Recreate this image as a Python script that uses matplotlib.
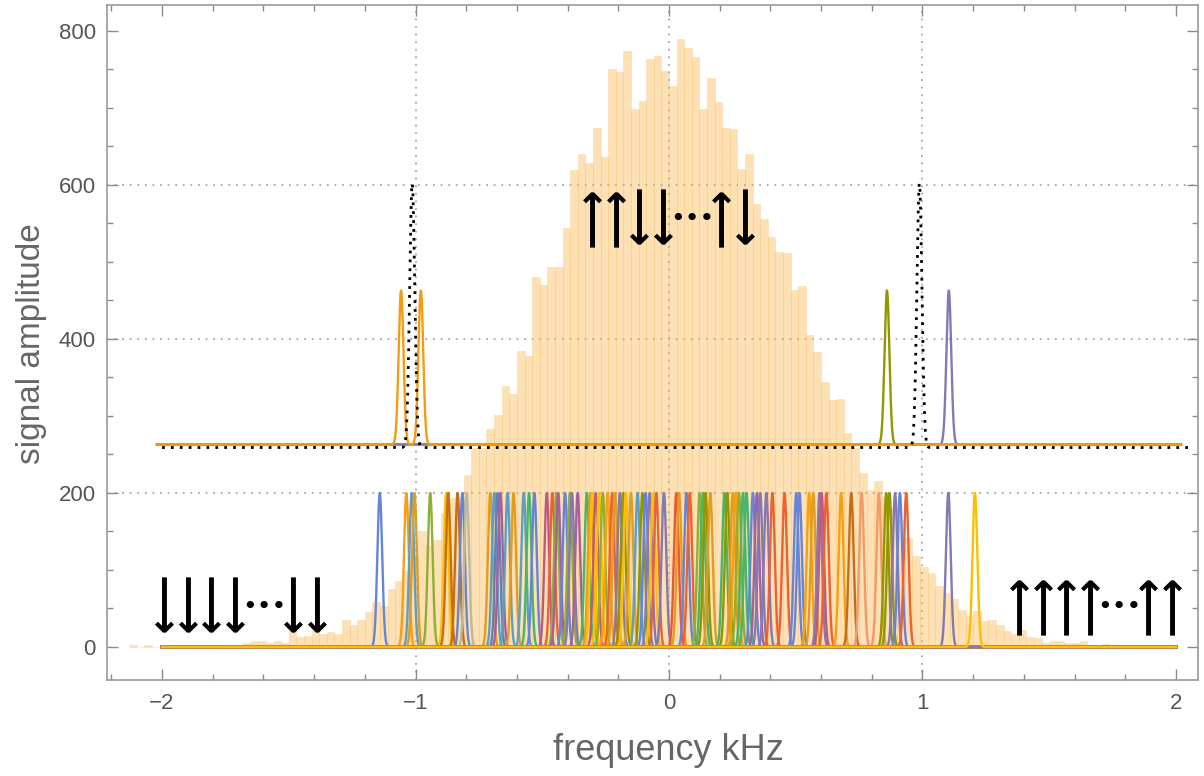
import numpy as np
import matplotlib
matplotlib.use("Agg")
import matplotlib.pyplot as plt
from matplotlib.ticker import MultipleLocator

plt.rcParams['font.family'] = ['Liberation Sans Narrow', 'Liberation Sans', 'DejaVu Sans']

# ---------------- data ----------------
hist_start = -2.13          # kHz, left edge of first bin
hist_width = 0.03           # kHz
hist_counts = [
    2, 0, 2, 0, 1, 0, 1, 1, 0, 2, 1, 2, 1, 2, 3,
    5, 8, 8, 5, 8, 5, 21, 13, 14, 22, 17, 20, 17, 35, 29,
    35, 45, 58, 53, 75, 86, 99, 120, 151, 133, 139, 174, 194, 194, 223,
    258, 258, 283, 301, 339, 328, 384, 378, 481, 470, 493, 493, 544, 620, 640,
    628, 674, 636, 751, 747, 774, 699, 709, 764, 768, 748,
    729, 790, 778, 766, 699, 739, 708, 674, 673, 621, 640, 575, 556, 533, 513,
    512, 464, 469, 405, 383, 344, 321, 322, 278, 258, 226, 204, 216, 195, 180,
    165, 141, 118, 104, 96, 79, 70, 62, 48, 40, 47, 34, 35, 29, 21,
    17, 22, 13, 12, 5, 8, 8, 5, 5, 8, 1, 1, 4,
]

# individual spin lines (bottom trace, baseline 0)
peak_height = 200
peak_positions = [
    -1.141, -1.036, -1.015, -1.004, -0.942, -0.879, -0.871, -0.834, -0.815, -0.798,
    -0.705, -0.689, -0.676, -0.665, -0.637, -0.613, -0.573, -0.552, -0.531, -0.482,
    -0.460, -0.444, -0.437, -0.410, -0.391, -0.383, -0.360, -0.324, -0.310, -0.302,
    -0.289, -0.276, -0.261, -0.242, -0.224, -0.213, -0.194, -0.181, -0.170, -0.150,
    -0.124, -0.105, -0.092, -0.076, -0.063, -0.050, -0.020, 0.029, 0.040, 0.069,
    0.082, 0.121, 0.134, 0.144, 0.163, 0.219, 0.230, 0.252, 0.263, 0.276,
    0.292, 0.306, 0.331, 0.347, 0.360, 0.384, 0.408, 0.456, 0.502, 0.515,
    0.553, 0.569, 0.594, 0.602, 0.621, 0.679, 0.719, 0.760, 0.828, 0.857,
    0.870, 0.892, 0.911, 0.936, 1.102, 1.207,
]
peak_colors = [
    'B', 'O2', 'T', 'O', 'G', 'Y', 'Br', 'Br', 'B', 'Gy',
    'O', 'T', 'B1', 'M', 'T', 'O', 'T', 'G2', 'B', 'M2',
    'R', 'G', 'M', 'B', 'G', 'P', 'M', 'G2', 'O', 'Y',
    'M2', 'Y', 'G', 'O2', 'R', 'O', 'P', 'Ol', 'Y', 'O',
    'T', 'Ol', 'B', 'P', 'Y', 'R', 'P', 'R2', 'O', 'B',
    'R', 'G', 'G2', 'Ol', 'O', 'G2', 'Ol', 'O', 'O2', 'G',
    'G2', 'G2', 'B', 'M', 'P', 'P', 'R', 'R', 'B', 'B',
    'O2', 'O', 'P', 'M2', 'R', 'O2', 'Br', 'S', 'S', 'Ol',
    'Ol', 'P', 'B', 'R', 'P', 'Y',
]
palette = {
    'B': '#6685D9', 'B1': '#5E81B5', 'O': '#E19C24', 'O2': '#F89F13', 'G': '#8FB032',
    'G2': '#47B66D', 'R': '#EB6235', 'R2': '#E95536', 'P': '#8778B3', 'Br': '#C56E1A',
    'T': '#5D9EC7', 'Y': '#FFBF00', 'M': '#A5609D', 'M2': '#BC5B80', 'Ol': '#929600',
    'S': '#F29A6B', 'Gy': '#BDB8A0',
}

# upper (offset) trace
upper_offset = 263
upper_lines = [  # (peak positions, colour)
    ([0.860], '#929600'),
    ([1.104], '#8778B3'),
    ([-1.057, -0.979], '#F39C12'),
]
dotted_offset = 259
dotted_positions = [-1.013, 0.988]
dotted_height = 343

sigma = 0.0095

# spin configuration labels: (symbols, x of first symbol in kHz, y centre)
spin_labels = [
    ("↓↓↓↓⋯↓↓", -1.989, 54),
    ("↑↑↓↓⋯↑↓", -0.300, 558),
    ("↑↑↑↑⋯↑↑", 1.385, 54),
]
spin_step = 0.0925   # kHz between neighbouring symbols

# ---------------- figure ----------------
fig = plt.figure(figsize=(12.04, 7.76), dpi=100)
ax = fig.add_axes([0.0889, 0.1237, 0.9061, 0.8699])
ax.set_xlim(-2.217, 2.087)
ax.set_ylim(-42.9, 833.8)

# grid
for gx in (-1, 0, 1):
    ax.axvline(gx, color='#a8a8a8', lw=1.3, ls=(0, (1, 3.2)), zorder=0)
for gy in (200, 400, 600):
    ax.axhline(gy, color='#a8a8a8', lw=1.3, ls=(0, (1, 3.2)), zorder=0)

# histogram
edges = hist_start + hist_width * np.arange(len(hist_counts))
ax.bar(edges, hist_counts, width=hist_width, align='edge',
       color=(0.985, 0.68, 0.20, 0.37), edgecolor=(0.97, 0.72, 0.35, 0.25),
       linewidth=0.6, zorder=1)

x = np.linspace(-2.0, 2.0, 8001)

def gauss(xx, centers, h, s):
    y = np.zeros_like(xx)
    for c in centers:
        y += h * np.exp(-0.5 * ((xx - c) / s) ** 2)
    return y

# bottom trace
for pos, cname in zip(peak_positions, peak_colors):
    ax.plot(x, gauss(x, [pos], peak_height, sigma), color=palette[cname], lw=1.7, zorder=3)

# upper trace
xu = np.linspace(-2.02, 2.02, 8001)
for centers, col in upper_lines:
    ax.plot(xu, upper_offset + gauss(xu, centers, peak_height, sigma), color=col, lw=1.7, zorder=3)
xd = np.linspace(-2.0, 2.05, 8001)
ax.plot(xd, dotted_offset + gauss(xd, dotted_positions, dotted_height, 0.010),
        color='black', lw=2.0, ls=(0, (1, 2.2)), zorder=4)

# spin labels: each arrow is a long-arrow glyph turned up or down
slot_offsets = [0, 1, 2, 3, 4.25, 5.5, 6.5]
down_shift = -0.019   # compensates the glyph's off-centre baseline after rotation
for txt, x0, yc in spin_labels:
    for ch, off in zip(txt, slot_offsets):
        xc = x0 + off * spin_step
        if ch == '⋯':
            ax.text(xc, yc - 2, '•••', ha='center', va='center',
                    fontsize=18, family=['DejaVu Sans'], color='black', zorder=5)
        elif ch == '↑':
            ax.text(xc, yc, '⟶', ha='center', va='center',
                    rotation=90, rotation_mode='anchor',
                    fontsize=30, family=['DejaVu Sans'], fontweight='bold',
                    color='black', zorder=5)
        else:
            ax.text(xc + down_shift, yc, '⟶', ha='center', va='center',
                    rotation=-90, rotation_mode='anchor',
                    fontsize=30, family=['DejaVu Sans'], fontweight='bold',
                    color='black', zorder=5)

# axes styling
ax.xaxis.set_major_locator(MultipleLocator(1))
ax.xaxis.set_minor_locator(MultipleLocator(0.2))
ax.yaxis.set_major_locator(MultipleLocator(200))
ax.yaxis.set_minor_locator(MultipleLocator(50))
ax.tick_params(which='both', direction='in', top=True, right=True,
               colors='#8a8a8a', labelcolor='#555555', labelsize=16, width=1)
ax.tick_params(which='major', length=8)
ax.tick_params(which='minor', length=4)
for s in ax.spines.values():
    s.set_color('#9a9a9a')
    s.set_linewidth(1.2)
ax.tick_params(axis='x', pad=9)
ax.tick_params(axis='y', pad=8)

ax.set_xlabel('frequency kHz', fontsize=26, color='#666666')
ax.set_ylabel('signal amplitude', fontsize=24, color='#666666')
ax.xaxis.set_label_coords(0.515, -0.0785)
ax.yaxis.set_label_coords(-0.055, 0.499)

fig.savefig('out.png', dpi=100)
